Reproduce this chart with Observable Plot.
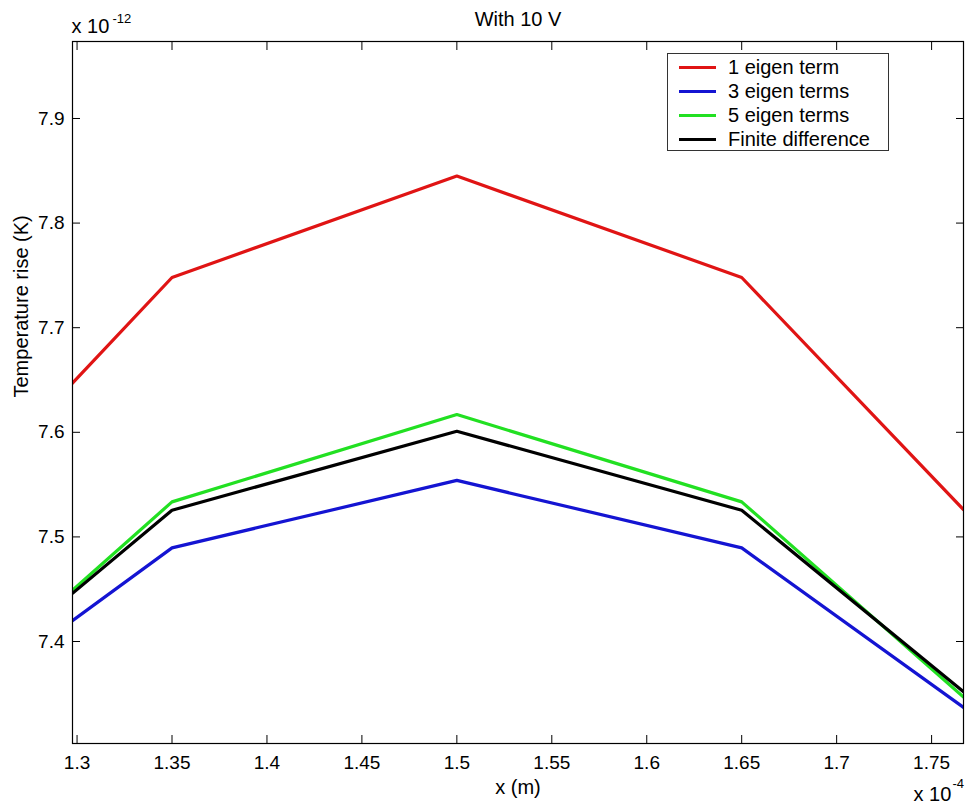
<!DOCTYPE html>
<html>
<head>
<meta charset="utf-8">
<script src="https://cdn.jsdelivr.net/npm/d3@7"></script>
<script src="https://cdn.jsdelivr.net/npm/@observablehq/plot@0.6"></script>
<style>
  body { margin: 0; background: #fff; }
  #chart { position: relative; width: 967px; height: 805px; font-family: "Liberation Sans", Arial, sans-serif; }
  #legend { position: absolute; left: 667px; top: 53px; width: 220px; height: 95px;
    border: 1px solid #333; background: #fff; padding-top: 1px; box-sizing: content-box; }
  .row { height: 24px; display: flex; align-items: center; font-size: 20px; color: #000; }
  .sw { width: 37px; height: 3px; margin-left: 11px; margin-right: 12px; }
</style>
</head>
<body>
<div id="chart"></div>
<script>
// Data (x in units of 1e-4 m, temperature rise in units of 1e-12 K)
const xValues   = [1.2976, 1.35, 1.5, 1.65, 1.7668];
const oneEigen  = [7.647, 7.748, 7.845, 7.748, 7.526];
const threeEigen= [7.420, 7.4895, 7.554, 7.4895, 7.337];
const fiveEigen = [7.449, 7.5335, 7.617, 7.5335, 7.347];
const finiteDiff= [7.446, 7.5255, 7.601, 7.5255, 7.352];

const seriesNames  = ["1 eigen term", "3 eigen terms", "5 eigen terms", "Finite difference"];
const seriesValues = [oneEigen, threeEigen, fiveEigen, finiteDiff];
const seriesColors = ["#e01414", "#1414d2", "#22e022", "#000000"];

const xTicks = [1.3, 1.35, 1.4, 1.45, 1.5, 1.55, 1.6, 1.65, 1.7, 1.75];
const yTicks = [7.4, 7.5, 7.6, 7.7, 7.8, 7.9];
const xDomain = [1.2976, 1.7668];
const yDomain = [7.3025, 7.9736];

const titleText = "With 10 V";
const xLabel = "x (m)";
const yLabel = "Temperature rise (K)";
const yExpBase = "x 10", yExp = "-12";
const xExpBase = "x 10", xExp = "-4";

const data = seriesNames.flatMap((name, i) =>
  xValues.map((x, j) => ({series: name, x, y: seriesValues[i][j]})));

const tick = 8;

const plot = Plot.plot({
  width: 967, height: 805,
  marginTop: 41, marginRight: 4, marginBottom: 62, marginLeft: 72,
  style: {fontFamily: '"Liberation Sans", Arial, sans-serif', fontSize: "19px", color: "#000", background: "#fff", overflow: "visible"},
  x: {domain: xDomain},
  y: {domain: yDomain},
  color: {domain: seriesNames, range: seriesColors},
  marks: [
    Plot.line(data, {x: "x", y: "y", z: "series", stroke: "series", strokeWidth: 3.2, clip: true}),
    Plot.frame({stroke: "#000", strokeWidth: 1.2}),
    // inward ticks on all four sides (MATLAB style)
    Plot.axisX(xTicks, {anchor: "bottom", tickSize: tick, dy: -tick, fill: "none", label: null, stroke: "#000"}),
    Plot.axisX(xTicks, {anchor: "top", tickSize: tick, dy: tick, fill: "none", label: null, stroke: "#000"}),
    Plot.axisY(yTicks, {anchor: "left", tickSize: tick, dx: tick, fill: "none", label: null, stroke: "#000"}),
    Plot.axisY(yTicks, {anchor: "right", tickSize: tick, dx: -tick, fill: "none", label: null, stroke: "#000"}),
    // tick labels
    Plot.axisX(xTicks, {anchor: "bottom", tickSize: 0, tickPadding: 12, stroke: "none", label: null, fontSize: 19, tickFormat: d => String(d)}),
    Plot.axisY(yTicks, {anchor: "left", tickSize: 0, tickPadding: 8, stroke: "none", label: null, fontSize: 19, tickFormat: d3.format(".1f")}),
    Plot.text([titleText], {frameAnchor: "top", lineAnchor: "bottom", dy: -16, fontSize: 20, fill: "#000"}),
    Plot.text([xLabel], {frameAnchor: "bottom", lineAnchor: "bottom", dy: 50, fontSize: 20, fill: "#000"}),
    Plot.text([yLabel], {frameAnchor: "left", rotate: -90, lineAnchor: "bottom", dx: -45, dy: 5, fontSize: 20, fill: "#000"}),
    Plot.text([yExpBase], {frameAnchor: "top-left", textAnchor: "start", lineAnchor: "bottom", dx: -1, dy: -9, fontSize: 20, fill: "#000"}),
    Plot.text([yExp], {frameAnchor: "top-left", textAnchor: "start", lineAnchor: "bottom", dx: 40, dy: -19, fontSize: 13, fill: "#000"}),
    Plot.text([xExpBase], {frameAnchor: "bottom-right", textAnchor: "start", lineAnchor: "bottom", dx: -50, dy: 57, fontSize: 20, fill: "#000"}),
    Plot.text([xExp], {frameAnchor: "bottom-right", textAnchor: "start", lineAnchor: "bottom", dx: -11, dy: 44, fontSize: 13, fill: "#000"})
  ]
});

const chart = document.getElementById("chart");
chart.appendChild(plot);

const legend = document.createElement("div");
legend.id = "legend";
seriesNames.forEach((name, i) => {
  const row = document.createElement("div");
  row.className = "row";
  const sw = document.createElement("span");
  sw.className = "sw";
  sw.style.background = seriesColors[i];
  const label = document.createElement("span");
  label.textContent = name;
  row.appendChild(sw);
  row.appendChild(label);
  legend.appendChild(row);
});
chart.appendChild(legend);
</script>
</body>
</html>
